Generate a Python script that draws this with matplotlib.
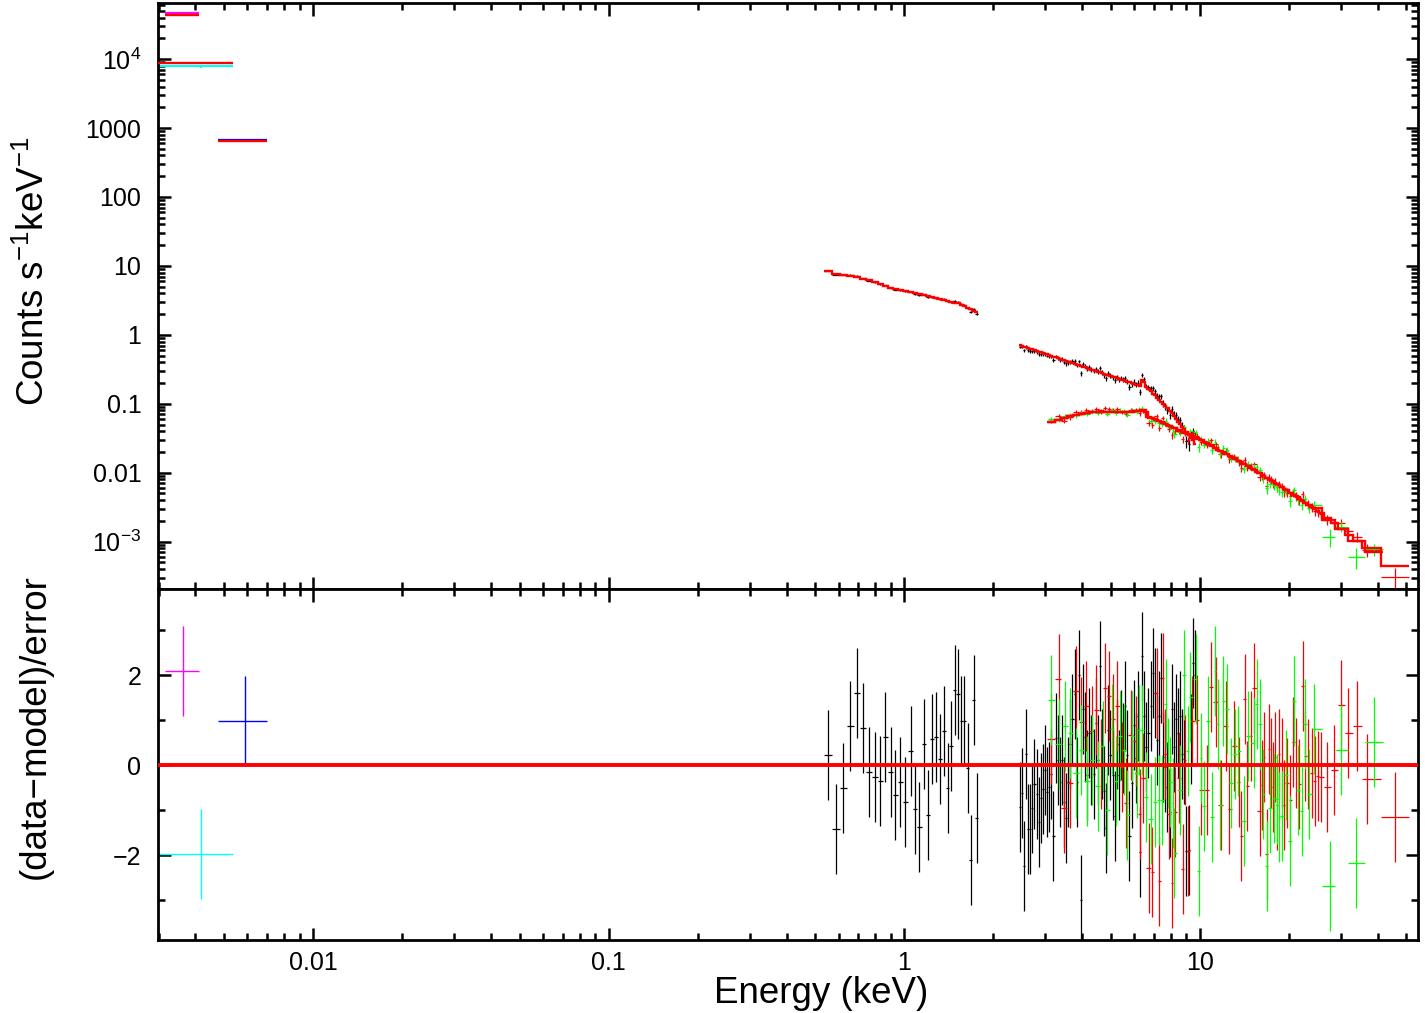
import numpy as np
import matplotlib.pyplot as plt
from matplotlib.ticker import FixedLocator, FixedFormatter, LogLocator, NullFormatter

plt.rcParams['font.family'] = ['Liberation Sans', 'DejaVu Sans']
plt.rcParams['mathtext.fontset'] = 'custom'
plt.rcParams['mathtext.rm'] = 'Liberation Sans'
plt.rcParams['mathtext.it'] = 'Liberation Sans:italic'

# ---- optical/UV points (magenta, cyan, blue) ----
uv_energy = [0.00363, 0.00417, 0.00588]
uv_halfwidth = [0.00048, 0.00119, 0.00110]
uv_counts = [4.69e4, 7.9e3, 670.0]
uv_error = [1630.0, 434.0, 29.0]
uv_model = [4.35e4, 8.75e3, 641.0]
uv_resid = [2.09, -1.96, 0.99]
uv_colors = ['#ff00ff', '#00ffff', '#0000ff']

# ---- soft X-ray, black ----
soft_energy = [0.551, 0.587, 0.623, 0.658, 0.691, 0.728, 0.761, 0.795, 0.831, 0.864, 0.901,
               0.934, 0.972, 1.010, 1.051, 1.087, 1.127, 1.166, 1.206, 1.244, 1.284, 1.324,
               1.363, 1.403, 1.439, 1.481, 1.520, 1.561, 1.598, 1.640, 1.679, 1.718, 1.759]
soft_model = [8.47, 7.70, 7.50, 7.25, 6.90, 6.50, 6.15, 5.80, 5.45, 5.15, 4.85,
              4.60, 4.45, 4.35, 4.20, 4.05, 3.92, 3.80, 3.65, 3.52, 3.40, 3.30,
              3.20, 3.10, 3.00, 2.92, 2.85, 2.72, 2.60, 2.48, 2.36, 2.25, 2.13]
soft_resid = [0.22, -1.42, -0.50, 0.88, 1.60, 0.82, -0.14, -0.25, -0.34, 0.63, -0.14,
              -0.65, -0.37, -0.82, 0.33, -0.96, -1.36, 0.47, -1.11, 0.58, 0.64, 0.15,
              0.77, -0.50, 0.42, 1.67, 1.59, 0.99, 0.98, -0.05, -2.10, 1.46, -1.17]
soft_sigma = [0.020, 0.020, 0.021, 0.021, 0.022, 0.022, 0.023, 0.023, 0.024, 0.024, 0.025,
              0.025, 0.026, 0.026, 0.027, 0.027, 0.028, 0.028, 0.029, 0.029, 0.030, 0.030,
              0.031, 0.032, 0.033, 0.034, 0.035, 0.036, 0.037, 0.038, 0.039, 0.040, 0.041]

# ---- hard X-ray, black ----
hard_energy = [2.460, 2.501, 2.542, 2.585, 2.628, 2.671, 2.716, 2.761, 2.807, 2.853,
               2.900, 2.948, 2.997, 3.047, 3.097, 3.149, 3.201, 3.254, 3.308, 3.363,
               3.419, 3.475, 3.533, 3.592, 3.651, 3.712, 3.773, 3.836, 3.899, 3.964,
               4.030, 4.097, 4.165, 4.234, 4.304, 4.375, 4.448, 4.522, 4.597, 4.673,
               4.751, 4.830, 4.910, 4.991, 5.074, 5.158, 5.244, 5.331, 5.419, 5.509,
               5.600, 5.693, 5.788, 5.884, 5.981, 6.080, 6.181, 6.284, 6.388, 6.494,
               6.601, 6.711, 6.822, 6.935, 7.050, 7.167, 7.286, 7.406, 7.529, 7.654,
               7.781, 7.910, 8.041, 8.174, 8.310, 8.447, 8.587, 8.730, 8.874, 9.022,
               9.171, 9.323, 9.478, 9.635]
hard_model = [0.708, 0.692, 0.675, 0.659, 0.643, 0.628, 0.614, 0.598, 0.585, 0.570,
              0.557, 0.544, 0.531, 0.519, 0.506, 0.494, 0.483, 0.471, 0.460, 0.449,
              0.439, 0.428, 0.418, 0.408, 0.398, 0.389, 0.380, 0.371, 0.362, 0.353,
              0.345, 0.337, 0.329, 0.321, 0.313, 0.306, 0.299, 0.292, 0.285, 0.278,
              0.272, 0.265, 0.259, 0.253, 0.247, 0.241, 0.235, 0.230, 0.224, 0.219,
              0.214, 0.209, 0.204, 0.199, 0.194, 0.190, 0.185, 0.181, 0.219, 0.209,
              0.174, 0.162, 0.151, 0.141, 0.132, 0.123, 0.115, 0.107, 0.100, 0.0933,
              0.0861, 0.0794, 0.0724, 0.0661, 0.0603, 0.0550, 0.0501, 0.0462, 0.0427, 0.0389,
              0.0355, 0.0324, 0.0295, 0.0263]
hard_resid = [-0.93, -0.61, -2.24, 0.26, -1.41, -1.42, -0.94, -0.42, -0.64, -1.26,
              -0.72, -0.52, -0.10, -0.59, -0.47, -0.19, -1.56, 0.60, 0.11, -0.37,
              0.11, -0.82, -1.18, -0.36, 0.47, 1.04, 1.59, -0.36, 2.00, -3.00,
              1.25, 0.64, -0.22, 0.73, 0.11, -0.20, 0.94, 0.11, 2.21, 0.26,
              -0.58, -1.39, 0.79, 0.23, -0.22, -1.13, 0.47, -0.22, 0.68, 0.39,
              1.31, 0.22, -1.57, -0.39, 0.90, 0.16, 1.09, -1.93, 2.42, 1.09,
              0.41, 0.71, 1.31, 2.06, 1.61, 0.56, 1.10, 1.94, 0.19, -0.04,
              -0.49, -1.03, 1.25, 0.41, 1.04, 0.71, 1.10, 0.25, 0.14, -1.90,
              -1.88, 0.59, 2.28, 2.01]
hard_sigma = [0.052, 0.052, 0.053, 0.053, 0.054, 0.055, 0.056, 0.056, 0.057, 0.057,
              0.058, 0.059, 0.060, 0.060, 0.061, 0.061, 0.062, 0.063, 0.064, 0.064,
              0.065, 0.065, 0.066, 0.066, 0.067, 0.068, 0.069, 0.069, 0.070, 0.070,
              0.071, 0.072, 0.073, 0.073, 0.074, 0.074, 0.075, 0.076, 0.077, 0.077,
              0.078, 0.078, 0.079, 0.079, 0.080, 0.081, 0.082, 0.082, 0.083, 0.083,
              0.084, 0.085, 0.086, 0.086, 0.087, 0.087, 0.088, 0.088, 0.081, 0.083,
              0.088, 0.091, 0.094, 0.096, 0.099, 0.101, 0.104, 0.107, 0.109, 0.112,
              0.114, 0.117, 0.120, 0.122, 0.125, 0.127, 0.130, 0.133, 0.137, 0.140,
              0.144, 0.148, 0.152, 0.156]

# ---- hard X-ray module A, red ----
red_energy = [3.143, 3.336, 3.467, 3.653, 3.819, 3.972, 4.140, 4.328, 4.475, 4.643,
              4.775, 4.953, 5.099, 5.260, 5.470, 5.613, 5.836, 6.068, 6.275, 6.409,
              6.732, 6.914, 7.150, 7.261, 7.532, 7.651, 7.869, 8.082, 8.229, 8.508,
              8.759, 8.897, 9.127, 9.395, 9.822, 10.13, 10.56, 10.90, 11.36, 11.78,
              12.25, 12.61, 13.07, 13.59, 13.77, 14.21, 14.51, 14.89, 15.28, 15.94,
              16.23, 16.52, 16.87, 17.18, 17.41, 17.68, 17.96, 18.20, 18.57, 18.92,
              19.31, 19.72, 20.24, 20.72, 21.16, 21.71, 22.29, 22.75, 23.29, 23.91,
              24.60, 25.06, 25.72, 26.95, 28.53, 30.06, 31.82, 34.06, 36.75, 45.81]
red_model = [0.0536, 0.0574, 0.0614, 0.0659, 0.0689, 0.0718, 0.0740, 0.0753, 0.0764, 0.0774,
             0.0773, 0.0769, 0.0767, 0.0764, 0.0762, 0.0760, 0.0767, 0.0781, 0.0793, 0.0809,
             0.0646, 0.0618, 0.0585, 0.0569, 0.0530, 0.0513, 0.0483, 0.0456, 0.0440, 0.0410,
             0.0389, 0.0378, 0.0361, 0.0342, 0.0315, 0.0297, 0.0269, 0.0249, 0.0226, 0.0207,
             0.0188, 0.0176, 0.0161, 0.0147, 0.0142, 0.0132, 0.0125, 0.0117, 0.0110, 0.00986,
             0.00940, 0.00896, 0.00847, 0.00807, 0.00780, 0.00748, 0.00718, 0.00692, 0.00656, 0.00622,
             0.00587, 0.00553, 0.00515, 0.00482, 0.00454, 0.00422, 0.00392, 0.00370, 0.00346, 0.00321,
             0.00296, 0.00281, 0.00261, 0.00224, 0.00187, 0.00155, 0.00126, 0.00101, 0.000822, 0.000437]
red_resid = [0.58, 1.93, -0.94, -0.40, 1.65, 0.97, 1.33, 0.76, 1.24, 0.04,
             1.71, 1.55, 1.03, 1.33, -0.03, -0.84, 0.68, 0.55, -1.09, -0.27,
             -2.29, -2.37, 1.60, -2.56, 1.95, 0.25, -1.08, -2.61, -1.03, -0.28,
             -2.31, 0.12, -1.90, 0.98, 1.00, -0.55, -0.55, 1.74, 1.40, -0.89,
             0.88, -0.97, 0.42, -0.37, -1.57, 1.48, -0.45, 0.66, 1.72, -1.01,
             -0.43, 0.18, -1.96, 0.37, 0.06, -0.47, 0.19, -0.88, 0.25, 0.06,
             -0.87, -0.40, -0.78, 0.52, 0.06, -0.42, 1.77, 0.21, 0.04, -0.16,
             -0.35, -0.24, -0.25, -0.49, -0.11, 1.35, 0.72, 0.88, -0.31, -1.15]
red_sigma = [0.075, 0.075, 0.073, 0.073, 0.071, 0.071, 0.070, 0.070, 0.070, 0.070,
             0.070, 0.071, 0.071, 0.073, 0.073, 0.074, 0.074, 0.075, 0.075, 0.075,
             0.080, 0.081, 0.083, 0.084, 0.085, 0.086, 0.088, 0.089, 0.090, 0.091,
             0.093, 0.094, 0.095, 0.096, 0.098, 0.100, 0.101, 0.103, 0.104, 0.105,
             0.106, 0.108, 0.109, 0.110, 0.111, 0.113, 0.114, 0.115, 0.116, 0.119,
             0.120, 0.121, 0.123, 0.124, 0.125, 0.126, 0.128, 0.129, 0.130, 0.131,
             0.133, 0.134, 0.135, 0.136, 0.138, 0.139, 0.140, 0.141, 0.143, 0.144,
             0.145, 0.146, 0.148, 0.150, 0.156, 0.163, 0.175, 0.188, 0.206, 0.250]

# ---- hard X-ray module B, green ----
green_energy = [3.150, 3.336, 3.494, 3.653, 3.819, 3.981, 4.162, 4.328, 4.522, 4.691,
                4.866, 5.043, 5.203, 5.370, 5.540, 5.688, 5.915, 6.116, 6.227, 6.374,
                6.561, 6.823, 7.040, 7.261, 7.433, 7.688, 7.808, 7.956, 8.119, 8.183,
                8.576, 8.848, 9.127, 9.271, 9.716, 9.922, 10.08, 10.34, 10.67, 11.04,
                11.24, 11.53, 11.72, 12.03, 12.35, 12.74, 13.21, 13.49, 14.13, 14.58,
                15.21, 15.60, 16.01, 16.44, 16.87, 17.31, 17.78, 18.24, 18.57, 18.92,
                19.56, 20.24, 20.88, 21.44, 22.12, 22.75, 23.47, 24.41, 27.59, 30.06,
                33.80, 38.97]
green_model = [0.0537, 0.0574, 0.0621, 0.0659, 0.0689, 0.0719, 0.0741, 0.0753, 0.0767, 0.0773,
               0.0771, 0.0767, 0.0766, 0.0762, 0.0760, 0.0759, 0.0773, 0.0783, 0.0789, 0.0804,
               0.0755, 0.0631, 0.0600, 0.0569, 0.0546, 0.0508, 0.0491, 0.0472, 0.0452, 0.0445,
               0.0405, 0.0382, 0.0361, 0.0350, 0.0321, 0.0309, 0.0301, 0.0282, 0.0262, 0.0242,
               0.0231, 0.0217, 0.0209, 0.0196, 0.0185, 0.0171, 0.0157, 0.0149, 0.0133, 0.0124,
               0.0112, 0.0104, 0.00975, 0.00908, 0.00847, 0.00791, 0.00738, 0.00689, 0.00656, 0.00622,
               0.00566, 0.00515, 0.00471, 0.00438, 0.00400, 0.00370, 0.00338, 0.00303, 0.00208, 0.00155,
               0.00103, 0.000700]
green_resid = [1.45, 0.48, 0.88, 0.73, -0.16, 0.35, -0.34, 0.12, -0.45, 0.43,
               -1.00, 0.81, -0.34, 0.65, 0.34, -1.10, 0.66, -0.17, 0.79, 0.79,
               -0.70, -1.19, -0.82, -0.76, -0.76, 1.36, 0.06, -0.37, -0.84, -1.95,
               -0.55, 2.01, 0.33, 1.51, 1.93, -2.34, 0.16, -0.91, 0.98, -1.15,
               2.09, 0.92, -0.87, 1.42, 1.26, -0.40, 0.25, 0.31, -1.24, 0.66,
               0.49, 1.36, 0.91, -0.64, -2.24, -0.94, -0.73, -0.74, -1.14, -1.12,
               -0.21, -1.68, 1.43, -0.54, -1.01, 0.93, -0.63, 0.80, -2.68, 0.35,
               -2.16, 0.52]
green_sigma = [0.078, 0.076, 0.075, 0.074, 0.073, 0.073, 0.071, 0.071, 0.071, 0.071,
               0.073, 0.073, 0.074, 0.074, 0.075, 0.075, 0.076, 0.076, 0.078, 0.079,
               0.083, 0.085, 0.086, 0.088, 0.089, 0.090, 0.091, 0.093, 0.094, 0.094,
               0.096, 0.098, 0.099, 0.100, 0.101, 0.103, 0.104, 0.105, 0.106, 0.108,
               0.109, 0.110, 0.111, 0.113, 0.114, 0.115, 0.116, 0.118, 0.119, 0.120,
               0.123, 0.124, 0.125, 0.128, 0.129, 0.130, 0.131, 0.133, 0.134, 0.135,
               0.138, 0.139, 0.140, 0.141, 0.143, 0.145, 0.146, 0.149, 0.163, 0.175,
               0.194, 0.225]

y_ticks = [1e-3, 0.01, 0.1, 1, 10, 100, 1000, 1e4]
y_ticklabels = [r'$10^{-3}$', '0.01', '0.1', '1', '10', '100', '1000', r'$10^{4}$']
x_ticks = [0.01, 0.1, 1, 10]
x_ticklabels = ['0.01', '0.1', '1', '10']


def bin_edges(e):
    le = np.log10(np.asarray(e, dtype=float))
    mid = 0.5 * (le[1:] + le[:-1])
    lo = np.concatenate([[2 * le[0] - mid[0]], mid])
    hi = np.concatenate([mid, [2 * le[-1] - mid[-1]]])
    return 10 ** lo, 10 ** hi


fig = plt.figure(figsize=(14.25, 10.13), dpi=100)
ax1 = fig.add_axes([0.1109, 0.4190, 0.8842, 0.5780])
ax2 = fig.add_axes([0.1109, 0.0721, 0.8842, 0.3469], sharex=ax1)

models = []


def plot_set(energy, model, resid, sigma, color):
    e = np.asarray(energy)
    m = np.asarray(model)
    r = np.asarray(resid)
    err = m * np.asarray(sigma)
    counts = m + r * err
    lo, hi = bin_edges(e)
    xerr = [e - lo, hi - e]
    ax1.errorbar(e, counts, xerr=xerr, yerr=err, fmt='none', ecolor=color,
                 elinewidth=0.9, zorder=2)
    ax2.errorbar(e, r, xerr=xerr, yerr=1.0, fmt='none', ecolor=color,
                 elinewidth=0.9, zorder=2)
    models.append((np.concatenate([lo, hi[-1:]]), m))


plot_set(soft_energy, soft_model, soft_resid, soft_sigma, 'black')
plot_set(hard_energy, hard_model, hard_resid, hard_sigma, 'black')
plot_set(red_energy, red_model, red_resid, red_sigma, '#ff0000')
plot_set(green_energy, green_model, green_resid, green_sigma, '#00ff00')

for e, hw, c, err, m, r, col in zip(uv_energy, uv_halfwidth, uv_counts, uv_error,
                                     uv_model, uv_resid, uv_colors):
    ax1.errorbar([e], [c], xerr=[hw], yerr=[err], fmt='none', ecolor=col,
                 elinewidth=1.6, zorder=2)
    ax2.errorbar([e], [r], xerr=[hw], yerr=[1.0], fmt='none', ecolor=col,
                 elinewidth=1.0, zorder=2)
    models.append((np.array([e - hw, e + hw]), np.array([m])))

for edges, m in models:
    ax1.stairs(m, edges, color='#ff0000', lw=1.7, baseline=None, zorder=3)

ax2.axhline(0, color='#ff0000', lw=2.8, zorder=4)

ax1.set_xscale('log')
ax1.set_yscale('log')
ax1.set_xlim(0.002989, 54.8)
ax1.set_ylim(2.09e-4, 6.5e4)
ax2.set_ylim(-3.88, 3.93)

ax1.yaxis.set_major_locator(FixedLocator(y_ticks))
ax1.yaxis.set_major_formatter(FixedFormatter(y_ticklabels))
ax1.yaxis.set_minor_locator(LogLocator(base=10, subs=range(2, 10), numticks=30))
ax1.yaxis.set_minor_formatter(NullFormatter())

ax2.xaxis.set_major_locator(FixedLocator(x_ticks))
ax2.xaxis.set_major_formatter(FixedFormatter(x_ticklabels))
ax2.xaxis.set_minor_locator(LogLocator(base=10, subs=range(2, 10), numticks=30))
ax2.xaxis.set_minor_formatter(NullFormatter())
ax2.yaxis.set_major_locator(FixedLocator([-2, 0, 2]))
ax2.yaxis.set_major_formatter(FixedFormatter(['\u22122', '0', '2']))
ax2.yaxis.set_minor_locator(FixedLocator([-3, -1, 1, 3]))
plt.setp(ax1.get_xticklabels(), visible=False)

for ax in (ax1, ax2):
    for s in ax.spines.values():
        s.set_linewidth(2.0)
    ax.tick_params(which='both', direction='in', top=True, right=True,
                   width=1.8, labelsize=18, pad=12)
    ax.tick_params(which='major', length=9)
    ax.tick_params(which='minor', length=4.8)
ax2.tick_params(axis='x', which='both', pad=8)

fig.text(34 / 1425, 1 - 271 / 1013, r'Counts s$^{-1}$keV$^{-1}$', rotation=90,
         ha='center', va='center', fontsize=26.5)
fig.text(35 / 1425, 1 - 727 / 1013, '(data\u2212model)/error', rotation=90,
         ha='center', va='center', fontsize=26.5)
fig.text(821 / 1425, 1 - 993 / 1013, 'Energy (keV)', ha='center', va='center',
         fontsize=26.5)

fig.savefig('out.png', dpi=100)
